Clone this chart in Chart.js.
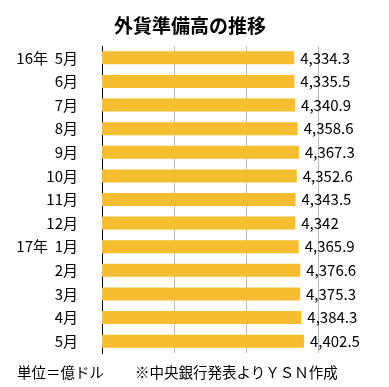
<!DOCTYPE html>
<html lang="ja">
<head>
  <meta charset="UTF-8" />
  <title>外貨準備高の推移</title>
  <script src="https://cdn.jsdelivr.net/npm/chart.js"></script>
  <style>
    body {
      margin: 0;
      background: #fff;
      font-family: "Noto Sans CJK JP", "Noto Sans", sans-serif;
      color: #000;
    }
    .wrap {
      position: relative;
      width: 389px;
      height: 387px;
    }
    .title {
      position: absolute;
      top: 11px;
      left: 0;
      width: 380px;
      text-align: center;
      font-size: 19px;
      font-weight: bold;
      line-height: 28px;
    }
    .note {
      position: absolute;
      top: 362px;
      font-size: 14.5px;
      line-height: 20px;
    }
  </style>
</head>
<body>
  <div class="wrap">
    <canvas id="reserve-chart" width="389" height="387"></canvas>
    <div class="title">外貨準備高の推移</div>
    <div class="note" style="left:17px">単位＝億ドル</div>
    <div class="note" style="left:135px">※中央銀行発表よりＹＳＮ作成</div>
  </div>

  <script>
    const months = ["16年  5月", "6月", "7月", "8月", "9月", "10月", "11月", "12月", "17年  1月", "2月", "3月", "4月", "5月"];
    const reserves = [4334.3, 4335.5, 4340.9, 4358.6, 4367.3, 4352.6, 4343.5, 4342, 4365.9, 4376.6, 4375.3, 4384.3, 4402.5];

    const font = "'Noto Sans CJK JP', 'Noto Sans', sans-serif";

    // value text at the end of each bar
    const valueLabels = {
      id: "valueLabels",
      afterDatasetsDraw(chart) {
        const ctx = chart.ctx;
        const meta = chart.getDatasetMeta(0);
        ctx.save();
        ctx.font = "15px " + font;
        ctx.fillStyle = "#000";
        ctx.textAlign = "left";
        ctx.textBaseline = "middle";
        meta.data.forEach((bar, i) => {
          ctx.fillText(reserves[i].toLocaleString("en-US"), bar.x + 6, bar.y);
        });
        ctx.restore();
      }
    };

    new Chart(document.getElementById("reserve-chart"), {
      type: "bar",
      data: {
        labels: months,
        datasets: [{
          data: reserves,
          backgroundColor: "#F5BD2F",
          barPercentage: 0.55,
          categoryPercentage: 1
        }]
      },
      options: {
        indexAxis: "y",
        responsive: false,
        animation: false,
        layout: { padding: { top: 46, right: 71, bottom: 34, left: 0 } },
        plugins: {
          legend: { display: false },
          title: { display: false },
          tooltip: { enabled: false }
        },
        scales: {
          x: {
            min: 3000,
            max: 4500,
            ticks: { display: false, stepSize: 500 },
            grid: { color: "#b8b8b8", lineWidth: 1, drawTicks: false },
            border: { display: false }
          },
          y: {
            afterFit(scale) { scale.width = 102; },
            ticks: { color: "#000", font: { family: font, size: 15 }, padding: 24 },
            grid: { display: false, drawTicks: false },
            border: { color: "#000", width: 1 }
          }
        }
      },
      plugins: [valueLabels]
    });
  </script>
</body>
</html>
